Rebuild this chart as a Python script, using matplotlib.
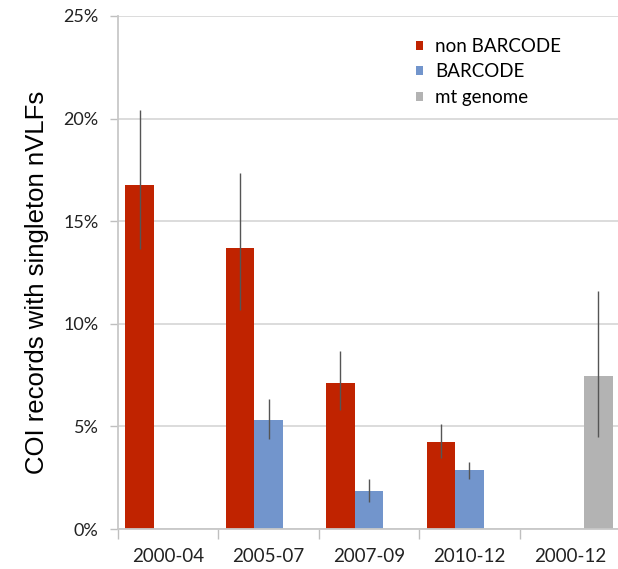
import numpy as np
import matplotlib
matplotlib.use('Agg')
import matplotlib.pyplot as plt

# proportion of COI records with singleton nVLFs, by period and record type
periods = ['2000-04', '2005-07', '2007-09', '2010-12', '2000-12']
series = ['non BARCODE', 'BARCODE', 'mt genome']
colors = ['#C02300', '#7295CC', '#B3B3B3']

# values in percent (nan = no bar)
non_barcode = [16.75, 13.7, 7.13, 4.25, np.nan]
barcode = [np.nan, 5.3, 1.83, 2.87, np.nan]
mt_genome = [np.nan, np.nan, np.nan, np.nan, 7.48]

# lower / upper error limits in percent
non_barcode_lo = [13.66, 10.65, 5.8, 3.47, np.nan]
non_barcode_hi = [20.4, 17.35, 8.68, 5.11, np.nan]
barcode_lo = [np.nan, 4.38, 1.31, 2.46, np.nan]
barcode_hi = [np.nan, 6.34, 2.46, 3.27, np.nan]
mt_genome_lo = [np.nan, np.nan, np.nan, np.nan, 4.47]
mt_genome_hi = [np.nan, np.nan, np.nan, np.nan, 11.58]

values = [non_barcode, barcode, mt_genome]
lows = [non_barcode_lo, barcode_lo, mt_genome_lo]
highs = [non_barcode_hi, barcode_hi, mt_genome_hi]

fig = plt.figure(figsize=(6.18, 5.69), dpi=100)
ax = fig.add_axes([118 / 618, 40 / 569, 502 / 618, 513 / 569])

x = np.arange(len(periods))
w = 0.284
for k in range(3):
    v = np.array(values[k], dtype=float)
    lo = np.array(lows[k], dtype=float)
    hi = np.array(highs[k], dtype=float)
    pos = x + (k - 1) * w
    ok = ~np.isnan(v)
    ax.bar(pos[ok], v[ok], width=w, color=colors[k], label=series[k], zorder=2)
    ax.errorbar(pos[ok], v[ok], yerr=[v[ok] - lo[ok], hi[ok] - v[ok]],
                fmt='none', ecolor='#555555', elinewidth=1, capsize=0, zorder=3)

ax.set_xlim(-0.5, 4.5)
ax.set_ylim(0, 25)
ax.set_yticks(np.arange(0, 26, 5))
ax.set_yticklabels(['%d%%' % t for t in np.arange(0, 26, 5)],
                   family='Lato', fontsize=13, color='#222222')
ax.set_xticks(x)
ax.set_xticklabels(periods, family='Lato', fontsize=13.5, color='#222222')
ax.set_xticks(np.arange(-0.5, 4.6, 1), minor=True)
ax.tick_params(axis='x', which='major', length=0, pad=14)
ax.tick_params(axis='x', which='minor', length=7, color='#bfbfbf', width=1)
ax.tick_params(axis='y', length=6, color='#bfbfbf', width=1, pad=8)

ax.yaxis.grid(True, color='#d9d9d9', linewidth=1.3, zorder=0)
ax.set_axisbelow(True)
for s in ['top', 'right']:
    ax.spines[s].set_visible(False)
ax.spines['left'].set_color('#c8c8c8')
ax.spines['bottom'].set_color('#c8c8c8')
ax.spines['left'].set_linewidth(1.3)
ax.spines['bottom'].set_linewidth(1.3)

ax.set_ylabel('COI records with singleton nVLFs', family='Liberation Sans',
              fontsize=18.5)
ax.yaxis.set_label_coords(-0.137, 0.48)

leg = ax.legend(loc='upper left', bbox_to_anchor=(0.56, 0.99), frameon=False,
                handlelength=0.38, handleheight=0.38, handletextpad=0.65,
                labelspacing=0.45, prop={'family': 'Lato', 'size': 13.5})

fig.savefig('out.png', dpi=100)
